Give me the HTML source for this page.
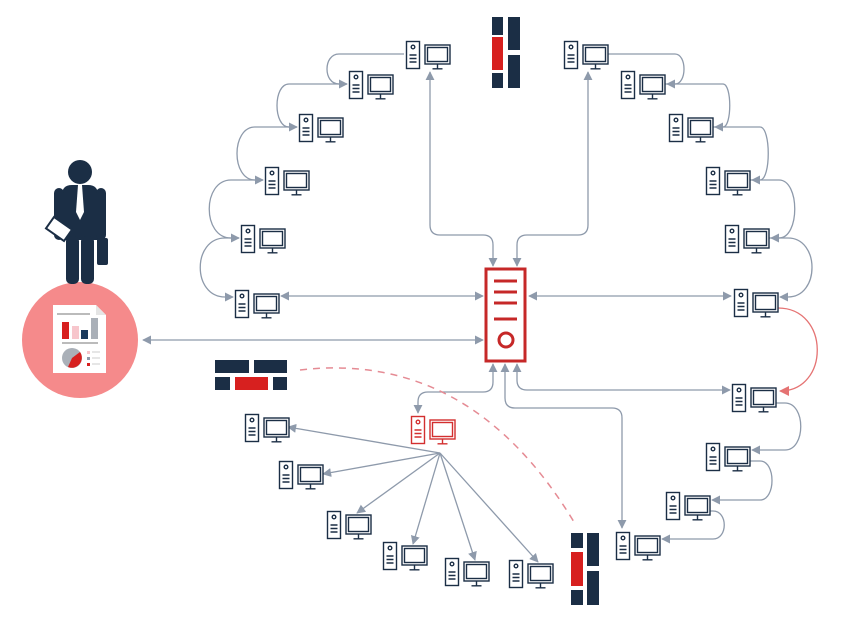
<!DOCTYPE html>
<html><head><meta charset="utf-8"><style>html,body{margin:0;padding:0;background:#fff}svg{display:block}</style></head>
<body>
<svg width="844" height="622" viewBox="0 0 844 622" xmlns="http://www.w3.org/2000/svg">
<defs>
<marker id="a" viewBox="0 0 10 10" refX="9" refY="5" markerWidth="9" markerHeight="9" markerUnits="userSpaceOnUse" orient="auto-start-reverse"><path d="M0,0 L10,5 L0,10 z" fill="#8e9aab"/></marker>
<marker id="ar" viewBox="0 0 10 10" refX="9" refY="5" markerWidth="10" markerHeight="10" markerUnits="userSpaceOnUse" orient="auto"><path d="M0,0 L10,5 L0,10 z" fill="#e57373"/></marker>
<g id="pc" fill="#fff" stroke="#1b2e45" stroke-width="1.4">
<rect x="0.5" y="0.5" width="13" height="27"/><circle cx="7" cy="6" r="1.8"/>
<path d="M3.5 14H10.5M3.5 17.5H10.5M3.5 21H10.5"/>
<rect x="19" y="4" width="25" height="19"/><rect x="21.5" y="6.5" width="20" height="14"/>
<path d="M31.5 23V27.5M26.5 27.8H36.5"/></g>
<g id="pcr" fill="#fff" stroke="#d32f2f" stroke-width="1.4">
<rect x="0.5" y="0.5" width="13" height="27"/><circle cx="7" cy="6" r="1.8"/>
<path d="M3.5 14H10.5M3.5 17.5H10.5M3.5 21H10.5"/>
<rect x="19" y="4" width="25" height="19"/><rect x="21.5" y="6.5" width="20" height="14"/>
<path d="M31.5 23V27.5M26.5 27.8H36.5"/></g>
</defs>

<g fill="none" stroke="#8e9aab" stroke-width="1.3" marker-end="url(#a)">
<path d="M404 54H339C323 54 323 84 339 84H347"/>
<path d="M347 84H289C273 84 273 127 289 127H297"/>
<path d="M297 127H255C231 127 231 180 255 180H263"/>
<path d="M263 180H231C202 180 202 238 231 238H239"/>
<path d="M239 238H225C192 238 192 297 225 297H233"/>
<path d="M608 54H675C687 54 687 84 675 84H667"/>
<path d="M665 84H723C732 84 732 127 723 127H715"/>
<path d="M713 127H760C771 127 771 180 760 180H752"/>
<path d="M750 180H779C800 180 800 238 779 238H771"/>
<path d="M769 238H788C820 238 820 297 788 297H780"/>
<path d="M776 403H785C806 403 806 450 785 450H752"/>
<path d="M750 461H760C776 461 776 500 760 500H712"/>
<path d="M710 511H713C728 511 728 539 713 539H662"/>
<path d="M493 266V245Q493 235 483 235H440Q430 235 430 225V72" marker-start="url(#a)"/>
<path d="M517 266V245Q517 235 527 235H578Q588 235 588 225V72" marker-start="url(#a)"/>
<path d="M281 296H483" marker-start="url(#a)"/>
<path d="M529 296H731" marker-start="url(#a)"/>
<path d="M143 340H483" marker-start="url(#a)"/>
<path d="M493 364V382Q493 392 483 392H428Q418 392 418 402V413" marker-start="url(#a)"/>
<path d="M517 364V380Q517 390 527 390H730" marker-start="url(#a)"/>
<path d="M505 364V398Q505 408 515 408H612Q622 408 622 418V528" marker-start="url(#a)"/>
<path d="M440 453L288 427"/><path d="M440 453L323 474"/><path d="M440 453L357 513"/>
<path d="M440 453L413 544"/><path d="M440 453L475 560"/><path d="M440 453L538 562"/>
</g>
<path d="M778 308C830 308 830 391 780 391" fill="none" stroke="#e57373" stroke-width="1.3" marker-end="url(#ar)"/>
<path d="M300 370Q470 350 574 522" fill="none" stroke="#e58b94" stroke-width="1.5" stroke-dasharray="7 6"/>

<use href="#pc" x="406" y="41"/><use href="#pc" x="349" y="71"/><use href="#pc" x="299" y="114"/>
<use href="#pc" x="265" y="167"/><use href="#pc" x="241" y="225"/><use href="#pc" x="235" y="290"/>
<use href="#pc" x="564" y="41"/><use href="#pc" x="621" y="71"/><use href="#pc" x="669" y="114"/>
<use href="#pc" x="706" y="167"/><use href="#pc" x="725" y="225"/><use href="#pc" x="734" y="289"/>
<use href="#pc" x="732" y="384"/><use href="#pc" x="706" y="443"/><use href="#pc" x="666" y="492"/><use href="#pc" x="616" y="532"/>
<use href="#pcr" x="411" y="416"/>
<use href="#pc" x="245" y="414"/><use href="#pc" x="279" y="461"/><use href="#pc" x="327" y="511"/>
<use href="#pc" x="383" y="542"/><use href="#pc" x="445" y="558"/><use href="#pc" x="509" y="560"/>

<rect x="486" y="269" width="39" height="92" fill="#fff" stroke="#c62828" stroke-width="3"/>
<path d="M494 281H517M494 292H517M494 303H517M494 319H517" stroke="#c62828" stroke-width="3"/>
<circle cx="506" cy="340" r="7" fill="none" stroke="#c62828" stroke-width="3"/>

<g fill="#1b2e45">
<rect x="492" y="17" width="11" height="18"/><rect x="492" y="73" width="11" height="15"/>
<rect x="508" y="17" width="12" height="33"/><rect x="508" y="55" width="12" height="33"/>
<rect x="215" y="360" width="34" height="13"/><rect x="254" y="360" width="33" height="13"/>
<rect x="215" y="377" width="15" height="13"/><rect x="273" y="377" width="14" height="13"/>
<rect x="571" y="533" width="12" height="15"/><rect x="571" y="590" width="12" height="15"/>
<rect x="587" y="533" width="12" height="33"/><rect x="587" y="571" width="12" height="34"/>
</g>
<g fill="#d7201f">
<rect x="492" y="37" width="11" height="33"/><rect x="235" y="377" width="33" height="13"/><rect x="571" y="552" width="12" height="34"/>
</g>

<circle cx="80" cy="340" r="58" fill="#f58a8b"/>
<path d="M53 305H96L106 315V373H53Z" fill="#fff"/>
<path d="M96 305V315H106" fill="#e5e5e5"/>
<rect x="57" y="313" width="33" height="2" fill="#bbb"/>
<rect x="62" y="322" width="7" height="17" fill="#d7201f"/><rect x="72" y="326" width="7" height="13" fill="#f7c6cc"/>
<rect x="81" y="330" width="7" height="9" fill="#1b3a5c"/><rect x="91" y="318" width="7" height="21" fill="#aab0b8"/>
<rect x="62" y="342" width="36" height="2" fill="#bbb"/>
<circle cx="72" cy="358" r="10" fill="#aab0b8"/><path d="M72 358L80 352A10 10 0 0 1 68 367Z" fill="#d7201f"/>
<rect x="87" y="351" width="3" height="3" fill="#f7c6cc"/><rect x="87" y="357" width="3" height="3" fill="#8e9aab"/><rect x="87" y="363" width="3" height="3" fill="#d7201f"/>
<path d="M92 352H100M92 358H100M92 364H100" stroke="#ccc"/>

<g fill="#1b2e45">
<circle cx="80" cy="172" r="12"/>
<path d="M62 195Q62 185 72 185H88Q98 185 98 195V240H62Z"/>
<rect x="54" y="188" width="10" height="52" rx="5"/><rect x="96" y="188" width="10" height="52" rx="5"/>
<rect x="66" y="236" width="13" height="48" rx="5"/><rect x="81" y="236" width="13" height="48" rx="5"/>
<rect x="97" y="238" width="11" height="27" rx="2"/>
</g>
<path d="M78 185H82L84 212L80 220L76 212Z" fill="#fff"/>
<rect x="48" y="222" width="22" height="14" fill="#fff" stroke="#1b2e45" stroke-width="2" transform="rotate(35 59 229)"/>
</svg>
</body></html>
